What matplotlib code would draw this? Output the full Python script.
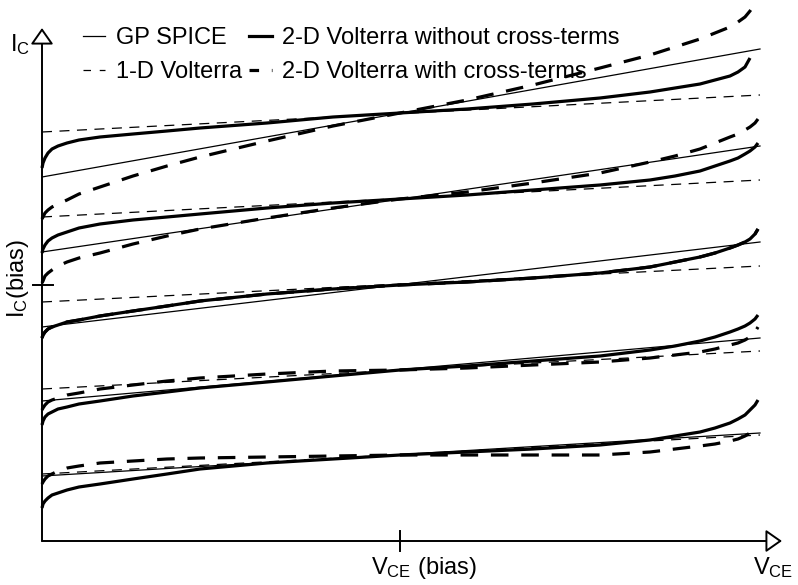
import numpy as np
import matplotlib
matplotlib.use("Agg")
import matplotlib.pyplot as plt
from matplotlib.lines import Line2D

plt.rcParams['font.family'] = ['Liberation Sans', 'DejaVu Sans']
plt.rcParams['mathtext.fontset'] = 'custom'
plt.rcParams['mathtext.rm'] = 'Liberation Sans'
plt.rcParams['mathtext.it'] = 'Liberation Sans:italic'

nan = np.nan

# operating point (arbitrary units)
vce_bias = 358
ic_bias = 256

# straight-line models, values at VCE = 0 and VCE = end
vce_line = [0, 718]
ic_spice_left = [364, 289, 214, 140, 65]
ic_spice_right = [492, 395, 299, 203, 108]
ic_v1d_left = [409, 324, 239, 152, 67]
ic_v1d_right = [446, 361, 275, 190, 106]

# sample points for the 2-D Volterra curves
vce_grid = [0, 1, 3, 6, 10, 16, 25, 37, 58, 91, 125, 158, 225, 291, 358,
            425, 491, 558, 608, 633, 658, 673, 688, 696, 703, 708, 713, 716]

# 2-D Volterra without cross-terms, one list per base current
nocross_1 = [373, 378, 383, 388, 392, 395, 398, 401, 404, 407, 410, 413, 418, 424,
             428, 432, 437, 443, 449, 453, 457, 461, 465, 469, 474, 483, nan, nan]
nocross_2 = [288, 292, 296, 300, 303, 306, 309, 313, 317, 321, 324, 327, 333, 338,
             342, 346, 351, 356, 361, 365, 370, 375, 380, 383, 387, 390, 394, 398]
nocross_3 = [203, 206, 209, 212, 214, 216, 219, 221, 225, 230, 235, 240, 247, 252,
             256, 259, 263, 268, 274, 279, 284, 288, 293, 296, 299, 302, 307, 312]
nocross_4 = [116, 120, 124, 127, 129, 132, 134, 137, 140, 145, 149, 153, 159, 165,
             171, 175, 180, 185, 191, 195, 200, 204, 209, 212, 215, 218, 222, 226]
nocross_5 = [33, 37, 40, 43, 46, 48, 51, 54, 57, 62, 67, 72, 78, 82,
             86, 89, 92, 96, 101, 105, 109, 113, 118, 122, 126, 131, 136, 141]

# 2-D Volterra with cross-terms
cross_1 = [322, 324, 328, 331, 334, 337, 341, 347, 354, 365, 375, 384, 400, 415,
           428, 441, 456, 473, 486, 494, 502, 508, 514, 519, 524, 530, 537, nan]
cross_2 = [258, 260, 265, 268, 271, 275, 279, 283, 288, 297, 305, 312, 323, 333,
           342, 349, 358, 368, 379, 385, 392, 398, 404, 407, 411, 414, 418, 422]
cross_3 = nocross_3
cross_4 = [131, 133, 136, 139, 141, 143, 146, 148, 152, 156, 160, 163, 167, 170,
           171, 173, 176, 179, 183, 186, 189, 192, 196, 198, 201, 204, 209, 214]
cross_5 = [57, 59, 62, 65, 67, 70, 73, 75, 78, 80, 82, 83, 84, 85,
           86, 86, 86, 86, 89, 92, 95, 97, 100, 102, 105, 108, 112, 116]

nocross = [nocross_1, nocross_2, nocross_3, nocross_4, nocross_5]
cross = [cross_1, cross_2, cross_3, cross_4, cross_5]

fig = plt.figure(figsize=(7.98, 5.85), dpi=100)
ax = fig.add_axes([0, 0, 1, 1])
ax.set_xlim(-42, 756)
ax.set_ylim(-44, 541)
ax.axis('off')

thin = 0.9
thick = 2.3
for i in range(5):
    ax.plot(vce_line, [ic_spice_left[i], ic_spice_right[i]], color='black', lw=thin)
    ax.plot(vce_line, [ic_v1d_left[i], ic_v1d_right[i]], color='black', lw=thin,
            dashes=(8, 6))
    ax.plot(vce_grid, nocross[i], color='black', lw=thick, solid_capstyle='butt')
    ax.plot(vce_grid, cross[i], color='black', lw=thick, dashes=(5.5, 4))

# axes with open arrow heads
arrow = dict(arrowstyle='-|>,head_length=0.5,head_width=0.35', mutation_scale=20,
             fc='white', ec='black', lw=1.4, shrinkA=0, shrinkB=0)
ax.annotate('', xy=(0, 513), xytext=(0, 0), arrowprops=arrow)
ax.annotate('', xy=(740, 0), xytext=(0, 0), arrowprops=arrow)

# bias ticks
ax.plot([-9, 11], [ic_bias, ic_bias], color='black', lw=1.4)
ax.plot([vce_bias, vce_bias], [-10, 10], color='black', lw=1.4)

# labels
ax.text(-22, 496, r'$\mathregular{I_C}$', fontsize=17, ha='center', va='center')
ax.text(-24, 263, r'$\mathregular{I_C(bias)}$', fontsize=17, ha='center',
        va='center', rotation=90)
ax.text(vce_bias + 24, -27, r'$\mathregular{V_{CE}\ (bias)}$', fontsize=17,
        ha='center', va='center')
ax.text(731, -27, r'$\mathregular{V_{CE}}$', fontsize=17, ha='center', va='center')

handles = [
    Line2D([], [], color='black', lw=thin),
    Line2D([], [], color='black', lw=thin, dashes=(6, 7)),
    Line2D([], [], color='black', lw=thick),
    Line2D([], [], color='black', lw=thick, dashes=(3, 4)),
]
labels = ['GP SPICE', '1-D Volterra', '2-D Volterra without cross-terms',
          '2-D Volterra with cross-terms']
ax.legend(handles, labels, ncol=2, loc='upper left', bbox_to_anchor=(0.104, 0.953),
          frameon=False, fontsize=17, handlelength=0.95, handletextpad=0.45,
          columnspacing=0.3, labelspacing=0.5, borderpad=0, borderaxespad=0)

fig.savefig('out.png', dpi=100)
